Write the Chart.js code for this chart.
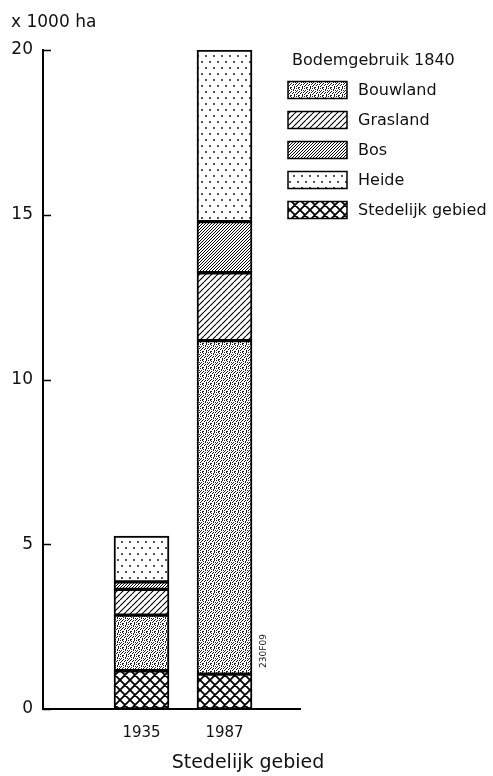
<!DOCTYPE html>
<html>
<head>
<meta charset="utf-8">
<script src="https://cdn.jsdelivr.net/npm/chart.js@4.4.0/dist/chart.umd.min.js"></script>
<style>
  html, body { margin: 0; padding: 0; background: #fff; }
  #wrap { width: 493px; height: 776px; }
</style>
</head>
<body>
<div id="wrap"><canvas id="c" width="493" height="776"></canvas></div>
<script>
// Land use (x 1000 ha) of the urban area in each year, split by what the land was in 1840
const YEARS = [1935, 1987];
const STEDELIJK = [1.16, 1.06];
const BOUWLAND = [1.69, 10.12];
const GRASLAND = [0.78, 2.06];
const BOS = [0.23, 1.55];
const HEIDE = [1.39, 5.21];
const Y_TICKS = [0, 5, 10, 15, 20];
const LEGEND_ORDER = ['Bouwland', 'Grasland', 'Bos', 'Heide', 'Stedelijk gebied'];

const FONT = '"DejaVu Sans", "Liberation Sans", sans-serif';
const INK = '#111';

const canvas = document.getElementById('c');
const ctx = canvas.getContext('2d');

// --- fill patterns --------------------------------------------------------
function tile(w, h, draw) {
  const c = document.createElement('canvas');
  c.width = w; c.height = h;
  const g = c.getContext('2d');
  g.fillStyle = '#fff';
  g.fillRect(0, 0, w, h);
  draw(g, w, h);
  return ctx.createPattern(c, 'repeat');
}
function hatch(n, width, back) {
  return tile(n, n, (g) => {
    g.strokeStyle = '#000';
    g.lineWidth = width;
    g.beginPath();
    for (let k = -n; k <= n; k += n) {
      if (back) { g.moveTo(k, 0); g.lineTo(k + n, n); }
      else { g.moveTo(k, n); g.lineTo(k + n, 0); }
    }
    g.stroke();
  });
}
const stipple = tile(8, 8, (g) => {
  const rows = [
    'x.x...x.',
    '...x.x..',
    '.x...x.x',
    'x..x....',
    '..x..x.x',
    '.x..x...',
    'x.....x.',
    '..xx..x.'
  ];
  g.fillStyle = '#222';
  rows.forEach((r, y) => [...r].forEach((ch, x) => { if (ch === 'x') g.fillRect(x, y, 1, 1); }));
});
const dots = tile(8, 12, (g) => {
  g.fillStyle = '#000';
  [[2, 2], [6, 8]].forEach(([x, y]) => { g.beginPath(); g.arc(x, y, 0.9, 0, Math.PI * 2); g.fill(); });
});
const cross = tile(10, 10, (g) => {
  g.strokeStyle = '#000';
  g.lineWidth = 1.8;
  g.beginPath();
  for (let k = -10; k <= 10; k += 10) {
    g.moveTo(k, 10); g.lineTo(k + 10, 0);
    g.moveTo(k, 0); g.lineTo(k + 10, 10);
  }
  g.stroke();
});

const FILLS = {
  'Stedelijk gebied': cross,
  'Bouwland': stipple,
  'Grasland': hatch(6, 1.1, false),
  'Bos': hatch(3, 1.0, false),
  'Heide': dots
};

const points = (vals) => YEARS.map((x, i) => ({ x, y: vals[i] }));
const series = [
  ['Stedelijk gebied', STEDELIJK],
  ['Bouwland', BOUWLAND],
  ['Grasland', GRASLAND],
  ['Bos', BOS],
  ['Heide', HEIDE]
];

// --- extra drawing: inward ticks, unit label, axis title, legend -----------
const decorations = {
  id: 'decorations',
  afterDraw(chart) {
    const g = chart.ctx;
    const ys = chart.scales.y;
    const area = chart.chartArea;
    g.save();
    g.strokeStyle = '#000';
    g.lineWidth = 1.5;
    Y_TICKS.forEach((v) => {
      const py = Math.round(ys.getPixelForValue(v)) + 0.5;
      g.beginPath(); g.moveTo(area.left, py); g.lineTo(area.left + 8, py); g.stroke();
    });

    g.fillStyle = INK;
    g.textBaseline = 'middle';
    g.textAlign = 'left';
    g.font = '17px ' + FONT;
    g.fillText('x 1000 ha', 11, 23);

    g.textAlign = 'center';
    g.font = '19px ' + FONT;
    g.fillText('Stedelijk gebied', 248, 763);

    // legend
    g.textAlign = 'left';
    g.font = '16px ' + FONT;
    g.fillText('Bodemgebruik 1840', 292, 61);
    LEGEND_ORDER.forEach((name, i) => {
      const cy = 90 + i * 30;
      g.fillStyle = FILLS[name];
      g.fillRect(288, cy - 8.5, 59, 17);
      g.strokeStyle = '#000';
      g.lineWidth = 1.5;
      g.strokeRect(288, cy - 8.5, 59, 17);
      g.fillStyle = INK;
      g.fillText(name, 358, cy + 1);
    });

    // figure code
    g.save();
    g.translate(264, 651);
    g.rotate(-Math.PI / 2);
    g.font = '9px ' + FONT;
    g.textAlign = 'center';
    g.fillText('230F09', 0, 0);
    g.restore();
    g.restore();
  }
};

new Chart(canvas, {
  type: 'bar',
  data: {
    datasets: series.map(([label, vals]) => ({
      label,
      data: points(vals),
      backgroundColor: FILLS[label],
      borderColor: '#000',
      borderWidth: 2,
      borderSkipped: false,
      barThickness: 55
    }))
  },
  options: {
    responsive: false,
    animation: false,
    devicePixelRatio: 1,
    layout: { padding: { top: 50, right: 193, left: 0, bottom: 0 } },
    plugins: { legend: { display: false }, tooltip: { enabled: false } },
    scales: {
      x: {
        type: 'linear',
        stacked: true,
        bounds: 'data',
        offset: false,
        min: 1873.3,
        max: 2034.3,
        afterBuildTicks: (s) => { s.ticks = YEARS.map((v) => ({ value: v })); },
        afterFit: (s) => { s.height = 67; },
        grid: { display: false, drawTicks: false },
        border: { display: true, color: '#000', width: 2 },
        ticks: {
          callback: (v) => String(v),
          font: { family: FONT, size: 15 },
          color: INK,
          padding: 15,
          maxRotation: 0,
          autoSkip: false
        }
      },
      y: {
        stacked: true,
        min: 0,
        max: 20,
        afterBuildTicks: (s) => { s.ticks = Y_TICKS.map((v) => ({ value: v })); },
        afterFit: (s) => { s.width = 43; },
        grid: { display: false, drawTicks: false },
        border: { display: true, color: '#000', width: 2 },
        ticks: {
          font: { family: FONT, size: 17 },
          color: INK,
          padding: 10
        }
      }
    }
  },
  plugins: [decorations]
});
</script>
</body>
</html>
